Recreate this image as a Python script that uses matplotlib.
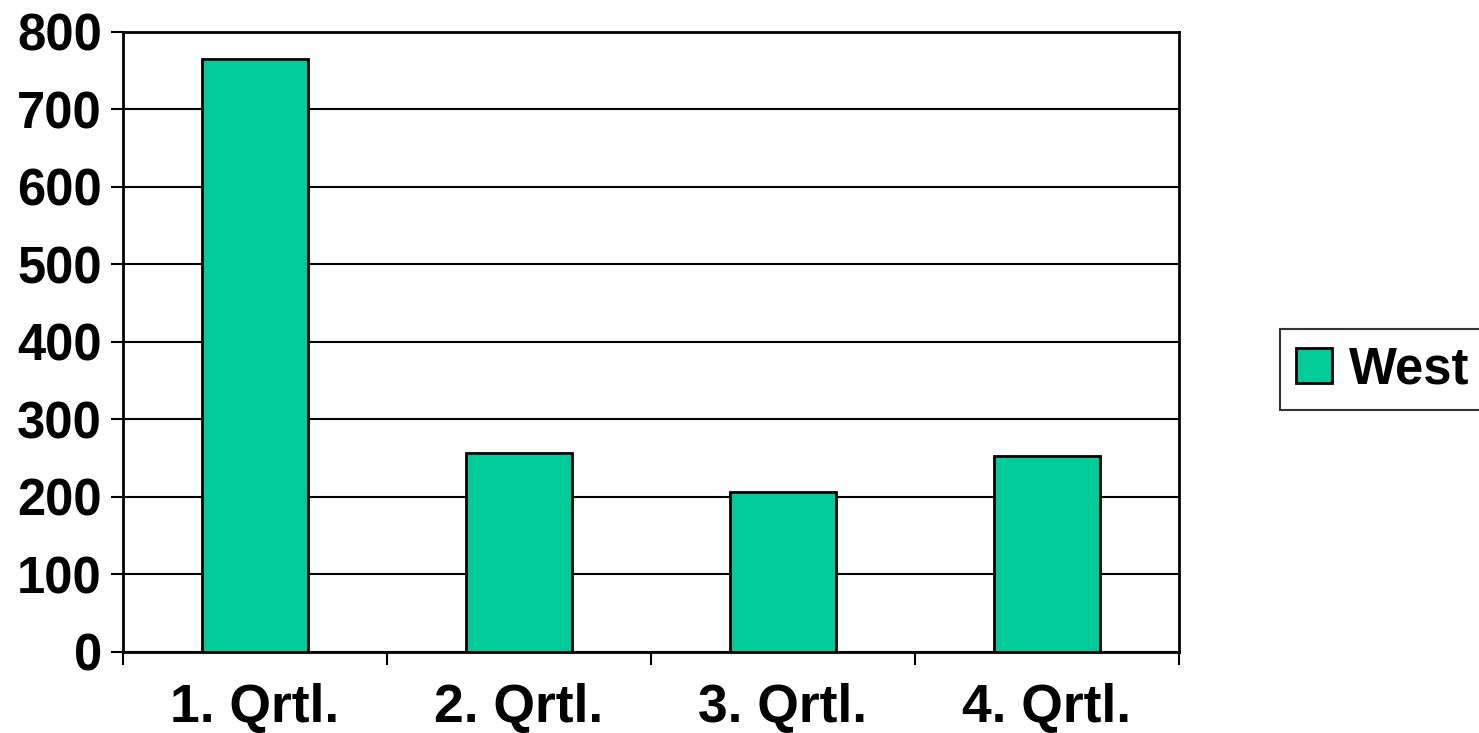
import matplotlib
matplotlib.use("Agg")
import matplotlib.pyplot as plt
import numpy as np

categories = ["1. Qrtl.", "2. Qrtl.", "3. Qrtl.", "4. Qrtl."]
west = [765, 257, 206, 252]
yticks = [0, 100, 200, 300, 400, 500, 600, 700, 800]

plt.rcParams['font.family'] = ['Liberation Sans', 'DejaVu Sans']
plt.rcParams['font.weight'] = 'bold'

fig = plt.figure(figsize=(14.79, 7.33), dpi=100)
ax = fig.add_axes([122.7/1479, 1-651.7/733, (1179-122.7)/1479, (651.7-31.7)/733])

x = np.arange(len(categories))
ax.bar(x, west, width=0.4, color='#00CC99', edgecolor='black', linewidth=2, label='West', zorder=3)
ax.set_xlim(-0.5, len(categories)-0.5)
ax.set_ylim(0, 800)
ax.set_yticks(yticks)
ax.set_yticklabels([str(v) for v in yticks], fontsize=36.5, fontweight='bold')
ax.set_xticks(x)
ax.set_xticklabels(categories, fontsize=38.5, fontweight='bold')
ax.tick_params(axis='x', length=0, pad=22.5)
ax.set_xticks(np.arange(-0.5, len(categories), 1.0), minor=True)
ax.tick_params(axis='x', which='minor', length=9, width=1.5, direction='out')
ax.tick_params(axis='y', length=9, width=1.5, direction='out', pad=6)
ax.yaxis.grid(True, color='black', linewidth=1.5, zorder=0)
ax.set_axisbelow(True)
for s in ax.spines.values():
    s.set_linewidth(2)
    s.set_color('black')

leg = fig.legend(loc='upper left', bbox_to_anchor=(1280/1479, 1-329/733), prop={'size': 36.5, 'weight': 'bold'},
                 frameon=True, fancybox=False, edgecolor='black', handlelength=0.7, handleheight=0.7,
                 handletextpad=0.34, borderpad=0.32, borderaxespad=0)
leg.get_frame().set_linewidth(1.5)

fig.savefig("out.png", dpi=100)
